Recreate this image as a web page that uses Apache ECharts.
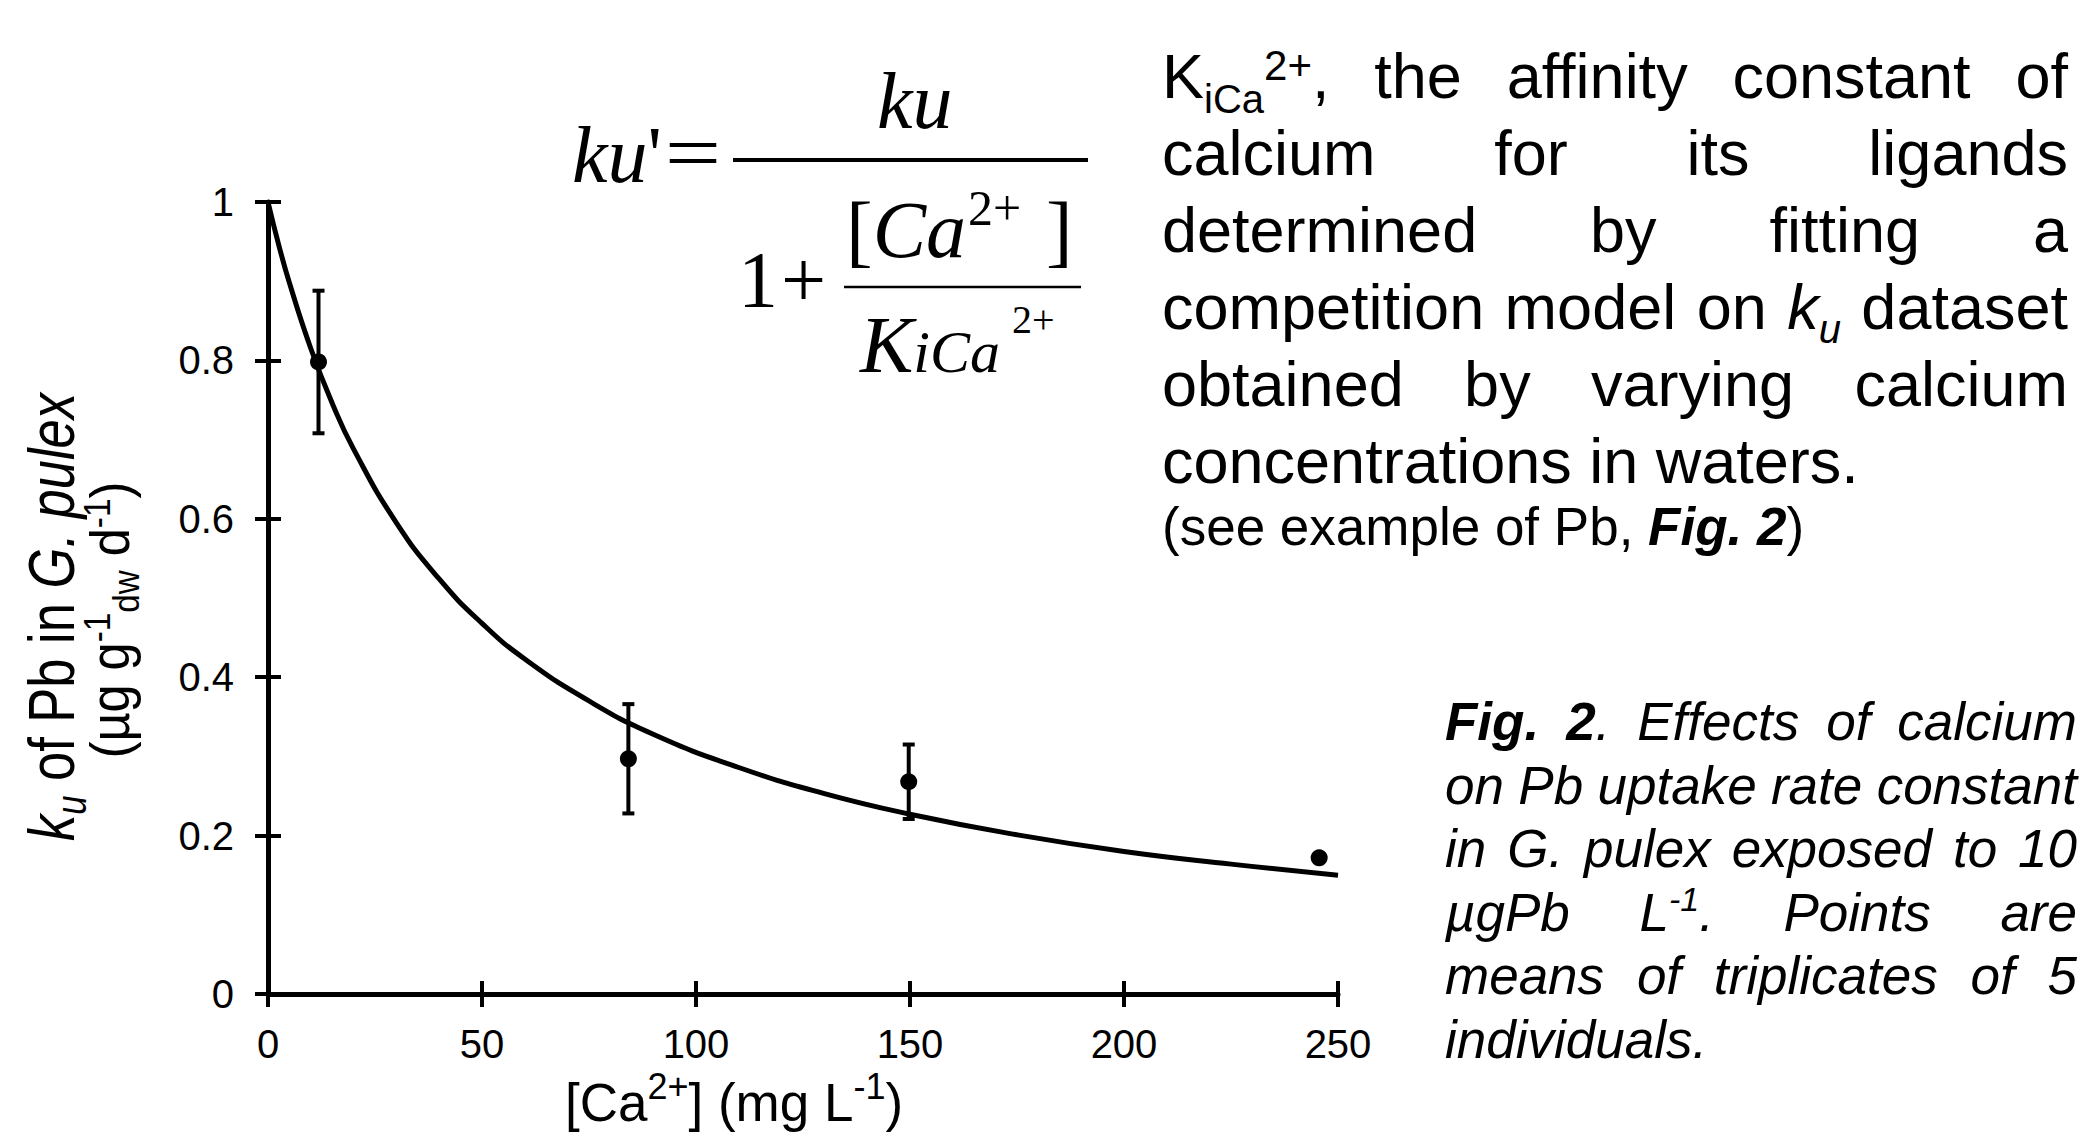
<!DOCTYPE html>
<html><head><meta charset="utf-8">
<script src="https://cdn.jsdelivr.net/npm/echarts@6/dist/echarts.min.js"></script>
<style>html,body{margin:0;padding:0;background:#fff;} #c{width:2085px;height:1135px;}</style>
</head><body><div id="c"></div>
<script>
// ---------------- data ----------------
const caConc = [11.8, 84.2, 149.7, 245.6];          // [Ca2+] mg/L of measured points
const kuMean = [0.798, 0.297, 0.268, 0.172];        // ku of Pb
const kuErr  = [0.090, 0.069, 0.047, 0.0];          // error bar half-length
const fitX = [0, 2.5, 5, 10, 15, 20, 30, 40, 50, 60, 75, 90, 110, 130, 150, 175, 200, 225, 250];
const fitY = [1.000, 0.946, 0.898, 0.815, 0.746, 0.688, 0.595, 0.524, 0.468, 0.423, 0.370, 0.328, 0.286, 0.253, 0.227, 0.201, 0.180, 0.164, 0.150];
const xRange = [0, 250]; const xStep = 50;
const yRange = [0, 1];   const yStep = 0.2;

// ---------------- text helpers ----------------
const SANS = '"Liberation Sans", Arial, Helvetica, sans-serif';
const SERIF = '"Liberation Serif", "Times New Roman", Times, serif';
const MID = {sans: 0.3465, serif: 0.3375};
const mctx = document.createElement('canvas').getContext('2d');
function S(t, o) { return Object.assign({t: t, fs: 63, fam: 'sans', it: false, b: false, dy: 0}, o || {}); }
function famOf(s) { return s.fam === 'serif' ? SERIF : SANS; }
function segW(s) { mctx.font = (s.it ? 'italic ' : '') + (s.b ? 'bold ' : '') + s.fs + 'px ' + famOf(s); return mctx.measureText(s.t).width; }
function wordW(w) { return w.reduce((a, s) => a + segW(s), 0); }
function textEl(s, x, base) {
  return {type: 'text', x: x, y: base + s.dy - MID[s.fam] * s.fs, silent: true,
    style: {text: s.t, fontSize: s.fs, fontFamily: famOf(s), fontStyle: s.it ? 'italic' : 'normal',
      fontWeight: s.b ? 'bold' : 'normal', fill: '#000', align: 'left', verticalAlign: 'middle'}};
}
function placeWord(w, x, base, out) { w.forEach(s => { out.push(textEl(s, x, base)); x += segW(s); }); return x; }
function words(str, o) { return str.split(' ').map(t => [S(t, o)]); }
function layoutLine(ws, left, right, base, justify, out, o) {
  const widths = ws.map(wordW);
  const total = widths.reduce((a, b) => a + b, 0);
  let gap = segW(S(' ', o));
  if (justify && ws.length > 1) gap = (right - left - total) / (ws.length - 1);
  let x = left;
  ws.forEach((w, i) => { placeWord(w, x, base, out); x += widths[i] + gap; });
}
function centeredLine(segs, cx, base, out) { placeWord(segs, cx - wordW(segs) / 2, base, out); }
function rotatedLine(segs, bx, cy, sx) {
  const kids = []; placeWord(segs, -wordW(segs) / 2, 0, kids);
  return {type: 'group', x: bx, y: cy, rotation: Math.PI / 2, scaleX: sx, children: kids};
}

const G = [];
// ---- right paragraph ----
const P1 = {fs: 63};
const pL = 1162, pR = 2068, pB0 = 98, pLH = 77;
layoutLine([[S('K', P1), S('iCa', {fs: 40, dy: 15}), S('2+', {fs: 42, dy: -18}), S(',', P1)]].concat(words('the affinity constant of', P1)), pL, pR, pB0, true, G, P1);
layoutLine(words('calcium for its ligands', P1), pL, pR, pB0 + pLH, true, G, P1);
layoutLine(words('determined by fitting a', P1), pL, pR, pB0 + 2 * pLH, true, G, P1);
layoutLine(words('competition model on', P1).concat([[S('k', {fs: 63, it: true}), S('u', {fs: 40, it: true, dy: 14})]], words('dataset', P1)), pL, pR, pB0 + 3 * pLH, true, G, P1);
layoutLine(words('obtained by varying calcium', P1), pL, pR, pB0 + 4 * pLH, true, G, P1);
layoutLine(words('concentrations in waters.', P1), pL, pR, pB0 + 5 * pLH, false, G, P1);
placeWord([S('(see example of Pb, ', {fs: 53}), S('Fig. 2', {fs: 53, it: true, b: true}), S(')', {fs: 53})], pL, 545, G);

// ---- caption ----
const C1 = {fs: 53, it: true};
const cL = 1445, cR = 2077, cB0 = 740, cLH = 63.5;
layoutLine([[S('Fig.', {fs: 53, it: true, b: true})], [S('2', {fs: 53, it: true, b: true}), S('.', C1)]].concat(words('Effects of calcium', C1)), cL, cR, cB0, true, G, C1);
layoutLine(words('on Pb uptake rate constant', C1), cL, cR, cB0 + cLH, true, G, C1);
layoutLine(words('in G. pulex exposed to 10', C1), cL, cR, cB0 + 2 * cLH, true, G, C1);
layoutLine([[S('µgPb', C1)], [S('L', C1), S('-1', {fs: 34, it: true, dy: -20}), S('.', C1)], [S('Points', C1)], [S('are', C1)]], cL, cR, cB0 + 3 * cLH, true, G, C1);
layoutLine(words('means of triplicates of 5', C1), cL, cR, cB0 + 4 * cLH, true, G, C1);
layoutLine(words('individuals.', C1), cL, cR, cB0 + 5 * cLH, false, G, C1);

// ---- formula ----
const SI = (t, fs) => S(t, {fam: 'serif', fs: fs, it: true});
const SR = (t, fs) => S(t, {fam: 'serif', fs: fs});
placeWord([SI('k', 80), SI('u', 80), SR("'", 80)], 572, 182, G);
const eq = textEl(SR('=', 80), 693, 180); eq.style.align = 'center'; eq.scaleX = 1.25; G.push(eq);
G.push({type: 'line', silent: true, shape: {x1: 733, y1: 160, x2: 1088, y2: 160}, style: {stroke: '#000', lineWidth: 4}});
placeWord([SI('k', 80), SI('u', 80)], 877, 128, G);
placeWord([SR('1', 80)], 738, 307, G);
placeWord([SR('+', 80)], 781, 307, G);
G.push({type: 'line', silent: true, shape: {x1: 844, y1: 287, x2: 1081, y2: 287}, style: {stroke: '#000', lineWidth: 2.5}});
placeWord([SR('[', 80), SI('C', 80), SI('a', 80)], 846, 257, G);
placeWord([SR('2+', 50)], 968, 225, G);
placeWord([SR(']', 80)], 1046, 257, G);
placeWord([SI('K', 80), SI('iCa', 60)], 860, 372, G);
placeWord([SR('2+', 40)], 1012, 333, G);

// ---- axis titles ----
centeredLine([S('[Ca', {fs: 53}), S('2+', {fs: 36, dy: -22}), S('] (mg L', {fs: 53}), S('-1', {fs: 36, dy: -22}), S(')', {fs: 53})], 734, 1121, G);
G.push(rotatedLine([S('k', {fs: 64, it: true}), S('u', {fs: 42, it: true, dy: 12}), S(' of Pb in ', {fs: 64}), S('G. pulex', {fs: 64, it: true})], 74, 617, 0.82));
G.push(rotatedLine([S('(µg g', {fs: 56}), S('-1', {fs: 37, dy: -19}), S('dw', {fs: 37, dy: 10}), S(' d', {fs: 56}), S('-1', {fs: 37, dy: -19}), S(')', {fs: 56})], 129, 620, 0.9));

// ---------------- chart ----------------
const tickStyle = {color: '#000', width: 4};
const lblStyle = {color: '#000', fontSize: 40, fontFamily: SANS};
const chart = echarts.init(document.getElementById('c'), null, {renderer: 'svg', width: 2085, height: 1135});
chart.setOption({
  animation: false,
  backgroundColor: '#fff',
  grid: {left: 268, top: 202, width: 1070, height: 792, containLabel: false},
  xAxis: [
    {type: 'value', min: xRange[0], max: xRange[1], interval: xStep, position: 'bottom',
      axisLine: {show: true, onZero: false, lineStyle: {color: '#000', width: 5}},
      axisTick: {show: true, inside: false, length: 13, lineStyle: tickStyle},
      axisLabel: Object.assign({margin: 30}, lblStyle), splitLine: {show: false}},
    {type: 'value', min: xRange[0], max: xRange[1], interval: xStep, position: 'bottom',
      axisLine: {show: false, onZero: false}, axisTick: {show: true, inside: true, length: 13, lineStyle: tickStyle},
      axisLabel: {show: false}, splitLine: {show: false}}
  ],
  yAxis: [
    {type: 'value', min: yRange[0], max: yRange[1], interval: yStep, position: 'left',
      axisLine: {show: true, onZero: false, lineStyle: {color: '#000', width: 5}},
      axisTick: {show: true, inside: false, length: 13, lineStyle: tickStyle},
      axisLabel: Object.assign({margin: 34}, lblStyle), splitLine: {show: false}},
    {type: 'value', min: yRange[0], max: yRange[1], interval: yStep, position: 'left',
      axisLine: {show: false, onZero: false}, axisTick: {show: true, inside: true, length: 13, lineStyle: tickStyle},
      axisLabel: {show: false}, splitLine: {show: false}}
  ],
  series: [
    {type: 'line', name: 'fit', xAxisIndex: 0, yAxisIndex: 0, data: fitX.map((x, i) => [x, fitY[i]]),
      smooth: 0.5, showSymbol: false, symbol: 'none',
      lineStyle: {color: '#000', width: 5}, z: 2},
    {type: 'custom', name: 'err', xAxisIndex: 0, yAxisIndex: 0,
      data: caConc.map((x, i) => [x, kuMean[i] - kuErr[i], kuMean[i] + kuErr[i]]),
      encode: {x: 0, y: [1, 2]},
      renderItem: function (params, api) {
        const lo = api.coord([api.value(0), api.value(1)]);
        const hi = api.coord([api.value(0), api.value(2)]);
        if (Math.abs(hi[1] - lo[1]) < 1) return null;
        const c = 6, st = {stroke: '#000', lineWidth: 4};
        return {type: 'group', children: [
          {type: 'line', shape: {x1: lo[0], y1: lo[1], x2: hi[0], y2: hi[1]}, style: st},
          {type: 'line', shape: {x1: lo[0] - c, y1: lo[1], x2: lo[0] + c, y2: lo[1]}, style: st},
          {type: 'line', shape: {x1: hi[0] - c, y1: hi[1], x2: hi[0] + c, y2: hi[1]}, style: st}
        ]};
      }, z: 3},
    {type: 'scatter', name: 'ku', xAxisIndex: 0, yAxisIndex: 0, data: caConc.map((x, i) => [x, kuMean[i]]),
      symbol: 'circle', symbolSize: 17, itemStyle: {color: '#000', opacity: 1}, z: 4}
  ],
  graphic: {elements: G}
});
</script></body></html>
